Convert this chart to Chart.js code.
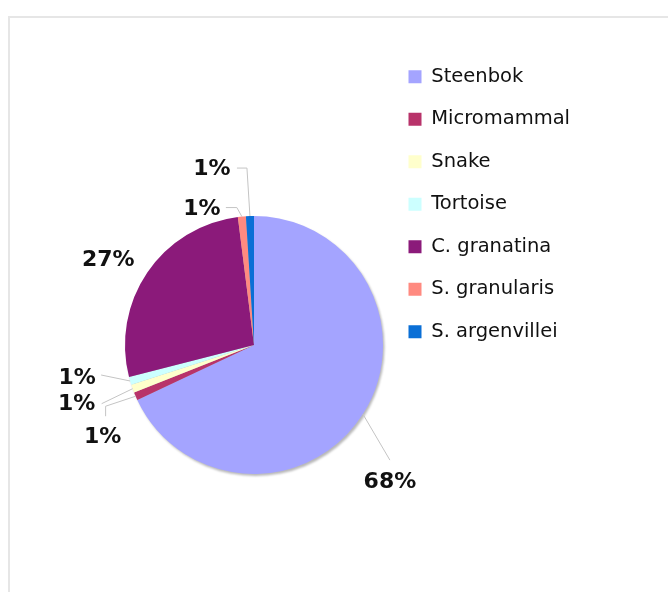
<!DOCTYPE html>
<html>
<head>
<meta charset="utf-8">
<title>Diet composition</title>
<script src="https://cdn.jsdelivr.net/npm/chart.js@4.4.1/dist/chart.umd.min.js"></script>
<style>
  html, body { margin: 0; padding: 0; background: #fff; overflow: hidden; }
  #frame { position: absolute; left: 8px; top: 16px; right: -4px; bottom: -4px;
           border-left: 2px solid #e6e6e6; border-top: 2px solid #e6e6e6; }
  #wrap { position: absolute; left: 0; top: 0; width: 668px; height: 592px; }
</style>
</head>
<body>
<div id="frame"></div>
<div id="wrap"><canvas id="dietChart"></canvas></div>
<script>
var categories = ['Steenbok', 'Micromammal', 'Snake', 'Tortoise', 'C. granatina', 'S. granularis', 'S. argenvillei'];
var shares = [68, 1, 1, 1, 27, 1, 1];
var sliceColors = ['#a4a4ff', '#b8336a', '#ffffcc', '#ccffff', '#8b1a7a', '#ff8a80', '#0a6fd6'];

// where each percentage sits, relative to the outer edge of its slice,
// and the bends of its leader line (relative to the label centre)
var labelLayout = [
    { dx: 27, dy: 68, leader: [[0, -22]] },
    { dx: -33, dy: 41, leader: [[3, -31], [3, -21]] },
    { dx: -56, dy: 16, leader: [[25, -1]] },
    { dx: -53, dy: -3, leader: [[24, -3]] },
    { dx: -39, dy: -12, leader: [] },
    { dx: -40, dy: -7, leader: [[35, -2], [24, -2]] },
    { dx: -38, dy: -47, leader: [[35, -1], [25, -1]] }
];

var legendFont = { family: '"DejaVu Sans"', size: 19.5 };
var boxX = 408.5, legendGap = 23, pieCenterX = 254;

// size the right padding so the legend boxes line up at boxX
var measure = document.createElement('canvas').getContext('2d');
measure.font = legendFont.size + 'px ' + legendFont.family;
var widest = Math.max.apply(null, categories.map(function (c) { return measure.measureText(c).width; }));
var itemWidth = 13 + legendFont.size / 2 + widest;
var padRight = 668 - boxX - itemWidth - 10;
var padLeft = 2 * pieCenterX - (boxX - legendGap);

var pieShadow = {
    id: 'pieShadow',
    beforeDatasetsDraw: function (chart) {
        var arc = chart.getDatasetMeta(0).data[0];
        if (!arc) return;
        var ctx = chart.ctx;
        ctx.save();
        ctx.filter = 'blur(1px)';
        ctx.fillStyle = 'rgba(0,0,0,0.28)';
        ctx.beginPath();
        ctx.arc(arc.x + 1.5, arc.y + 2, arc.outerRadius, 0, Math.PI * 2);
        ctx.fill();
        ctx.restore();
    }
};

var percentLabels = {
    id: 'percentLabels',
    afterDatasetsDraw: function (chart) {
        var ctx = chart.ctx;
        var data = chart.data.datasets[0].data;
        var total = data.reduce(function (a, b) { return a + b; }, 0);
        chart.getDatasetMeta(0).data.forEach(function (arc, i) {
            var mid = (arc.startAngle + arc.endAngle) / 2;
            var ax = arc.x + Math.cos(mid) * arc.outerRadius;
            var ay = arc.y + Math.sin(mid) * arc.outerRadius;
            var lay = labelLayout[i];
            var tx = ax + lay.dx, ty = ay + lay.dy;

            ctx.save();
            if (lay.leader.length) {
                ctx.strokeStyle = '#c4c4c4';
                ctx.lineWidth = 1;
                ctx.beginPath();
                ctx.moveTo(ax, ay);
                lay.leader.forEach(function (p) { ctx.lineTo(tx + p[0], ty + p[1]); });
                ctx.stroke();
            }
            ctx.fillStyle = '#111';
            ctx.font = 'bold 22px "DejaVu Sans"';
            ctx.textAlign = 'center';
            ctx.textBaseline = 'middle';
            ctx.fillText(Math.round(data[i] / total * 100) + '%', tx, ty);
            ctx.restore();
        });
    }
};

var ctx = document.getElementById('dietChart').getContext('2d');
var dietChart = new Chart(ctx, {
    type: 'pie',
    data: {
        labels: categories,
        datasets: [{
            data: shares,
            backgroundColor: sliceColors,
            borderWidth: 0,
            radius: 129
        }]
    },
    options: {
        responsive: true,
        maintainAspectRatio: false,
        animation: false,
        events: [],
        layout: {
            padding: { top: 44, left: padLeft, right: padRight, bottom: 0 }
        },
        plugins: {
            // empty title only reserves room above the pie
            title: {
                display: true,
                text: '',
                padding: 0,
                font: { size: 45, lineHeight: 1.2 }
            },
            legend: {
                position: 'right',
                align: 'start',
                labels: {
                    boxWidth: 13,
                    boxHeight: 13,
                    padding: legendGap,
                    color: '#111',
                    font: legendFont
                }
            },
            tooltip: { enabled: false }
        }
    },
    plugins: [pieShadow, percentLabels]
});
</script>
</body>
</html>
